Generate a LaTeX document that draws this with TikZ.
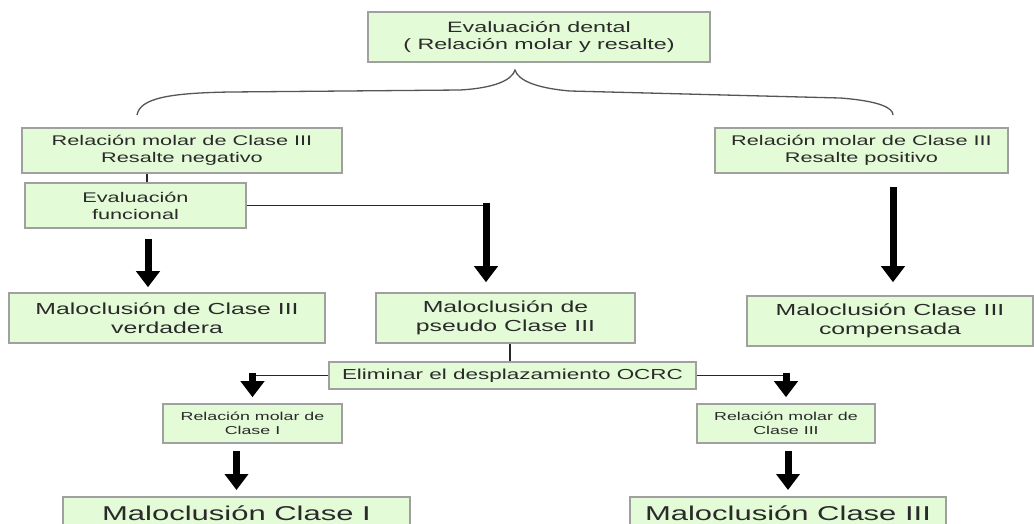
\documentclass[tikz,border=0pt]{standalone}
\usepackage{fontspec}
\setmainfont{Liberation Sans}[FakeStretch=1.55]
\usetikzlibrary{arrows.meta}
\usetikzlibrary{calc}
\definecolor{boxfill}{HTML}{E3FBD6}
\definecolor{boxline}{HTML}{A0A0A0}
\definecolor{bracecol}{HTML}{555555}
\definecolor{txtcol}{HTML}{2A2A2A}

\tikzset{
  gbox/.style={draw=boxline,fill=boxfill,line width=1.6pt,inner sep=0pt,align=center,text=txtcol},
  lvlfont/.style={font=\fontsize{14}{17}\selectfont},
  malfont/.style={font=\fontsize{16}{19}\selectfont},
  smallfont/.style={font=\fontsize{11.5}{14}\selectfont},
  bigfont/.style={font=\fontsize{20}{24}\selectfont},
  link/.style={line width=1.2pt,draw=black!85},
  fatarrow/.style={-{Triangle[width=23pt,length=16pt]},line width=7pt}
}

\begin{document}
\begin{tikzpicture}[x=1pt,y=-1pt]
      \useasboundingbox (0,0) rectangle (1034,523);
      \clip (0,0) rectangle (1034,523);
      % top
      \node[gbox,minimum width=342pt,minimum height=50pt,font=\fontsize{15}{17}\selectfont] (evald) at (539,37) {Evaluación dental\\( Relación molar y resalte)};
      % brace
      \draw[bracecol,line width=1.3pt] (137,115) .. controls (140,98) and (170,93) .. (230,92) -- (460,90)
            .. controls (495,88) and (512,80) .. (515,70) .. controls (518,80) and (535,88) .. (570,91)
            -- (840,98) .. controls (880,101) and (893,108) .. (893,115);
      % second row
      \node[gbox,lvlfont,minimum width=320pt,minimum height=45pt] (neg) at (182,150.5) {Relación molar de Clase III\\Resalte negativo};
      \node[gbox,lvlfont,minimum width=293pt,minimum height=45pt] (pos) at (861.5,150.5) {Relación molar de Clase III\\Resalte positivo};
      \node[gbox,lvlfont,minimum width=221pt,minimum height=45pt] (func) at (135.5,205.5) {Evaluación\\funcional};
      % maloclusiones
      \node[gbox,malfont,minimum width=316pt,minimum height=50pt] (verd) at (167,318) {Maloclusión de Clase III\\verdadera};
      \node[gbox,malfont,minimum width=259pt,minimum height=50pt] (pseudo) at (505.5,318) {Maloclusión de\\pseudo Clase III};
      \node[gbox,malfont,minimum width=286pt,minimum height=50pt] (comp) at (890,321) {Maloclusión Clase III\\compensada};
      \node[gbox,minimum width=367pt,minimum height=27pt,font=\fontsize{14.5}{17}\selectfont] (elim) at (512.5,375.5) {Eliminar el desplazamiento OCRC};
      % relaciones molares
      \node[gbox,smallfont,minimum width=179pt,minimum height=39pt] (rc1) at (252.5,423.5) {Relación molar de\\Clase I};
      \node[gbox,smallfont,minimum width=178pt,minimum height=39pt] (rc3) at (786,423.5) {Relación molar de\\Clase III};
      \node[gbox,bigfont,minimum width=347pt,anchor=north,inner ysep=9pt,text height=14.5pt,text depth=5pt] (mc1) at (236.5,496) {Maloclusión Clase I};
      \node[gbox,bigfont,minimum width=316pt,anchor=north,inner ysep=9pt,text height=14.5pt,text depth=5pt] (mc3) at (788,496) {Maloclusión Clase III};
      % connectors
      \coordinate (fk) at (486,203);
      \draw[link] ([xshift=11.5pt]func.north) -- ([xshift=11.5pt]func.north |- neg.south);
      \draw[fatarrow,shorten <=10pt,shorten >=5pt] ([xshift=12.5pt]func.south) -- ([xshift=12.5pt]func.south |- verd.north);
      \draw[link] (func.east) -- (func.east -| fk);
      \draw[fatarrow,shorten <=-3pt,shorten >=10pt] (func.east -| fk) -- (fk |- pseudo.north);
      \draw[fatarrow,shorten <=13pt,shorten >=13pt] ([xshift=3pt]comp.north |- pos.south) -- ([xshift=3pt]comp.north);
      \draw[link] ([xshift=4.5pt]pseudo.south) -- ([xshift=4.5pt]pseudo.south |- elim.north);
      \draw[link] (elim.west) -- (elim.west -| rc1.north);
      \draw[fatarrow,shorten <=-3pt,shorten >=6pt] (elim.west -| rc1.north) -- (rc1.north);
      \draw[link] (elim.east) -- (elim.east -| rc3.north);
      \draw[fatarrow,shorten <=-3pt,shorten >=6pt] (elim.east -| rc3.north) -- (rc3.north);
      \draw[fatarrow,shorten <=7pt,shorten >=6pt] (rc1.south -| mc1.north) -- (mc1.north);
      \draw[fatarrow,shorten <=7pt,shorten >=6pt] (rc3.south -| mc3.north) -- (mc3.north);
\end{tikzpicture}
\end{document}
